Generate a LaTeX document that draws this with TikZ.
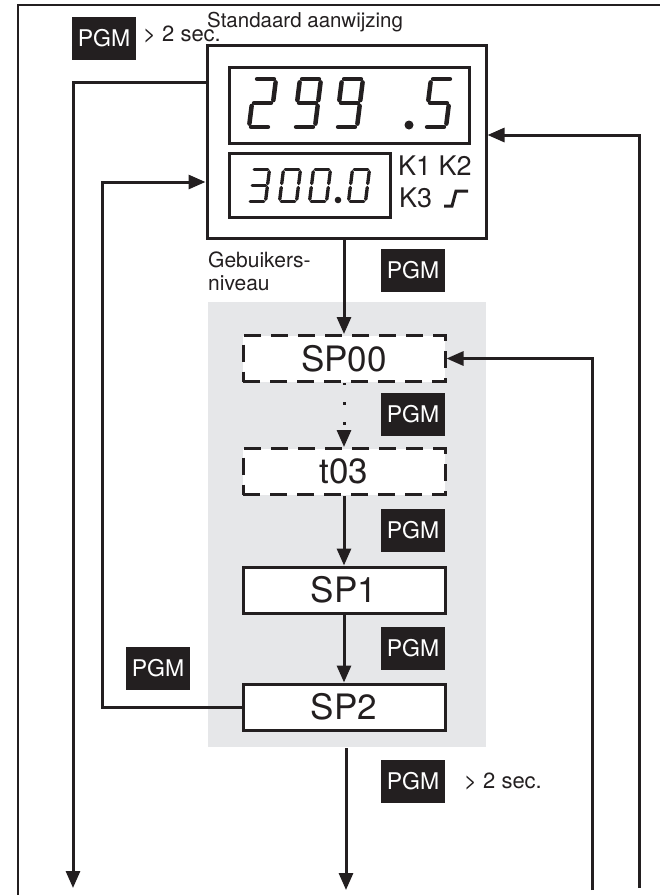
\documentclass[tikz,border=0pt]{standalone}
\usepackage{fontspec}
\setmainfont{TeX Gyre Heros}
\usetikzlibrary{arrows.meta}
\definecolor{ink}{HTML}{231F20}
\definecolor{greybg}{HTML}{E6E7E9}
\tikzset{
 arr/.style={line width=3pt, draw=ink, -{Triangle[length=17pt,width=14pt]}},
 pgm/.style={fill=ink, text=white, minimum width=64pt, minimum height=43pt, inner sep=0pt, font=\fontsize{23}{25}\selectfont},
 lbl/.style={inner sep=0pt, text=ink, font=\fontsize{22}{24}\selectfont},
 stepbox/.style={draw=ink, line width=3pt, fill=white, minimum width=202pt, minimum height=46pt, inner sep=0pt, text=ink, font=\fontsize{35}{38}\selectfont},
 dashbox/.style={stepbox, dash pattern=on 17pt off 10pt},
 dispbox/.style={draw=ink, line width=3pt, inner sep=0pt},
 seg/.style={line cap=round, draw=ink},
 bigdig/.style={x={(21pt,0pt)}, y={(6pt,48pt)}, line width=4.5pt},
 smalldig/.style={x={(17pt,0pt)}, y={(4pt,32pt)}, line width=3.3pt},
}
\newcommand\segA{\draw[seg] (0.1,1)--(0.9,1);}
\newcommand\segB{\draw[seg] (1,0.93)--(1,0.56);}
\newcommand\segC{\draw[seg] (1,0.44)--(1,0.07);}
\newcommand\segD{\draw[seg] (0.1,0)--(0.9,0);}
\newcommand\segE{\draw[seg] (0,0.44)--(0,0.07);}
\newcommand\segF{\draw[seg] (0,0.93)--(0,0.56);}
\newcommand\segG{\draw[seg] (0.1,0.5)--(0.9,0.5);}
\newcommand\sevseg[4]{\begin{scope}[shift={(#1pt,-#2pt)},#3]#4\end{scope}}
\begin{document}
\begin{tikzpicture}[x=1pt,y=-1pt]
\useasboundingbox (0,0) rectangle (660,895);
% frame
\draw[line width=2.5pt, draw=ink] (18,895) -- (18,5) -- (660,5);
% grey user level
\node[fill=greybg, minimum width=278pt, minimum height=445pt, inner sep=0pt] (grey) at (347,524.5) {};
% top labels
\node[pgm] (pgm0) at (104,38) {PGM};
\node[lbl, anchor=base west] (sec0) at (143,41) {> 2 sec.};
\node[lbl, anchor=base west, font=\fontsize{20.5}{23}\selectfont] (std) at (207,27) {Standaard aanwijzing};
% display
\node[dispbox, minimum width=279pt, minimum height=193pt] (main) at (346.5,141.5) {};
\node[dispbox, minimum width=240pt, minimum height=76pt] (disp1) at (349,105) {};
\node[dispbox, minimum width=161pt, minimum height=64pt] (disp2) at (309.5,185) {};
\sevseg{249}{127}{bigdig}{\segA\segB\segG\segE\segD}
\sevseg{294}{127}{bigdig}{\segA\segB\segC\segD\segF\segG}
\sevseg{336}{127}{bigdig}{\segA\segB\segC\segD\segF\segG}
\fill[ink] (409,125) circle[radius=4.5pt];
\sevseg{425}{127}{bigdig}{\segA\segF\segG\segC\segD}
\sevseg{248.5}{201.5}{smalldig}{\segA\segB\segG\segC\segD}
\sevseg{279.5}{201.5}{smalldig}{\segA\segB\segC\segD\segE\segF}
\sevseg{309.5}{201.5}{smalldig}{\segA\segB\segC\segD\segE\segF}
\fill[ink] (338,200) circle[radius=3.3pt];
\sevseg{348.5}{201.5}{smalldig}{\segA\segB\segC\segD\segE\segF}
\node[lbl, anchor=base west, font=\fontsize{27}{30}\selectfont] (k12) at (398,175) {K1 K2};
\node[lbl, anchor=base west, font=\fontsize{27}{30}\selectfont] (k3) at (399,207) {K3};
\draw[ink, line width=3pt] (444,206) -- (452,206) -- (456,191) -- (468,191);
% user level label
\node[lbl, anchor=north west, align=left, font=\fontsize{21}{23}\selectfont] (geb) at (208,252) {Gebuikers-\\niveau};
% steps
\node[dashbox] (sp00) at (344,358.5) {SP00};
\node[dashbox] (t03) at (344,471.5) {t03};
\node[stepbox] (sp1) at (344,590) {SP1};
\node[stepbox] (sp2) at (344,707) {SP2};
% PGM badges
\node[pgm] (pgm1) at (413,270.5) {PGM};
\node[pgm] (pgm2) at (413,414.5) {PGM};
\node[pgm] (pgm3) at (413,530.5) {PGM};
\node[pgm] (pgm4) at (413,648.5) {PGM};
\node[pgm] (pgm5) at (158,668.5) {PGM};
\node[pgm] (pgm6) at (413,781.5) {PGM};
\node[lbl, anchor=base west] (sec6) at (464,788) {> 2 sec.};
% connectors
\draw[arr] (sp00.north |- main.south) -- (sp00.north);
\draw[arr, dash pattern=on 3pt off 17pt, dash phase=1pt] (sp00.south) -- (t03.north);
\draw[arr] (t03.south) -- (sp1.north);
\draw[arr] (sp1.south) -- (sp2.north);
\coordinate (lft) at (102,182);
\draw[arr] (sp2.west) -| (lft) -- (lft -| main.west);
\coordinate (y82) at (73,82);
\coordinate (o1) at (73,888);
\draw[arr] (main.west |- y82) -- (y82) -- (o1);
\coordinate (o2) at (346,890);
\coordinate (o2t) at (346,748);
\draw[arr] (o2t) -- (o2);
\coordinate (r1) at (639,135);
\coordinate (r1b) at (639,888);
\draw[arr] (r1b) -- (r1) -- (r1 -| main.east);
\coordinate (r2) at (592,358.5);
\coordinate (r2b) at (592,890);
\draw[arr] (r2b) -- (r2) -- (sp00.east);
\end{tikzpicture}
\end{document}
